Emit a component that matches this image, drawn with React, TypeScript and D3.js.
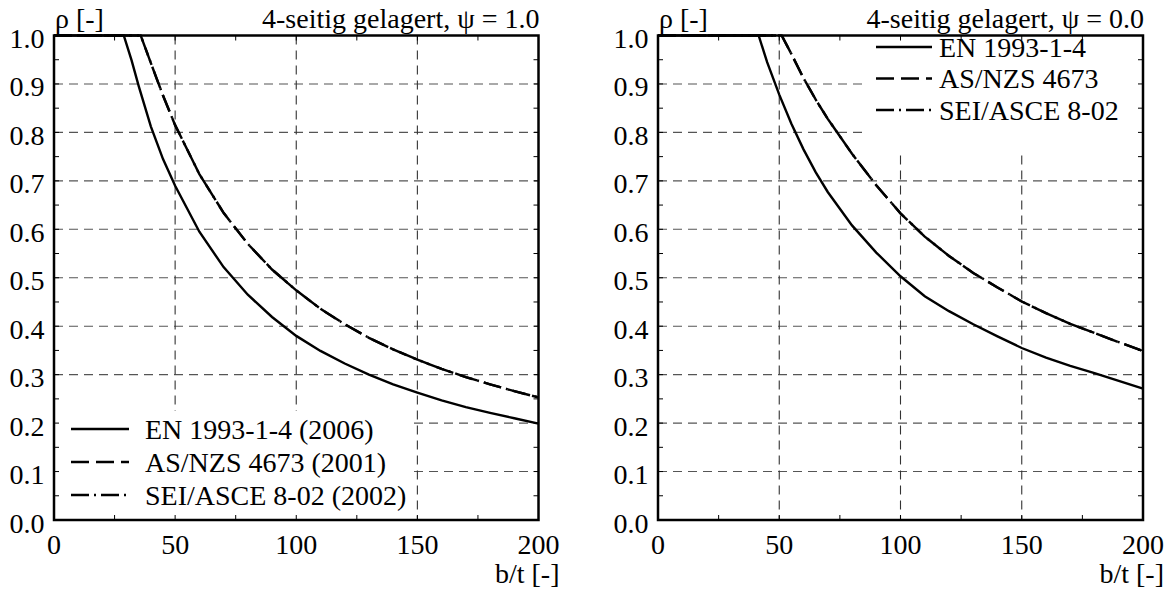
import React, { useEffect, useRef } from 'react';
import * as d3 from 'd3';

// b/t and rho, left panel (psi = 1.0)
const btEnPsi1 = [0, 28.8, 32, 35, 40, 45, 50, 60, 70, 80, 90, 100, 110, 120, 130, 140, 150, 160, 170, 180, 190, 200];
const rhoEnPsi1 = [1, 1, 0.949, 0.895, 0.812, 0.745, 0.69, 0.595, 0.522, 0.465, 0.419, 0.38, 0.349, 0.323, 0.3, 0.28, 0.263, 0.247, 0.233, 0.221, 0.21, 0.199];
const btAsPsi1 = [0, 35.8, 40, 45, 50, 60, 70, 80, 90, 100, 110, 120, 130, 140, 150, 160, 170, 180, 190, 200];
const rhoAsPsi1 = [1, 1, 0.943, 0.876, 0.815, 0.714, 0.634, 0.57, 0.517, 0.474, 0.436, 0.404, 0.376, 0.352, 0.331, 0.312, 0.295, 0.28, 0.266, 0.253];
const btSeiPsi1 = [0, 35.8, 40, 45, 50, 60, 70, 80, 90, 100, 110, 120, 130, 140, 150, 160, 170, 180, 190, 200];
const rhoSeiPsi1 = [1, 1, 0.943, 0.876, 0.815, 0.714, 0.634, 0.57, 0.517, 0.474, 0.436, 0.404, 0.376, 0.352, 0.331, 0.312, 0.295, 0.28, 0.266, 0.253];

// right panel (psi = 0.0)
const btEnPsi0 = [0, 41.5, 45, 50, 55, 60, 65, 70, 80, 90, 100, 110, 120, 130, 140, 150, 160, 170, 180, 190, 200];
const rhoEnPsi0 = [1, 1, 0.945, 0.878, 0.818, 0.765, 0.718, 0.677, 0.608, 0.552, 0.503, 0.462, 0.431, 0.404, 0.379, 0.355, 0.335, 0.318, 0.303, 0.287, 0.271];
const btAsPsi0 = [0, 51, 55, 60, 65, 70, 75, 80, 90, 100, 110, 120, 130, 140, 150, 160, 170, 180, 190, 200];
const rhoAsPsi0 = [1, 1, 0.962, 0.912, 0.868, 0.828, 0.792, 0.756, 0.691, 0.633, 0.585, 0.545, 0.51, 0.48, 0.451, 0.427, 0.405, 0.386, 0.367, 0.349];
const btSeiPsi0 = [0, 51, 55, 60, 65, 70, 75, 80, 90, 100, 110, 120, 130, 140, 150, 160, 170, 180, 190, 200];
const rhoSeiPsi0 = [1, 1, 0.962, 0.912, 0.868, 0.828, 0.792, 0.756, 0.691, 0.633, 0.585, 0.545, 0.51, 0.48, 0.451, 0.427, 0.405, 0.386, 0.367, 0.349];

const titles = ['4-seitig gelagert, ψ = 1.0', '4-seitig gelagert, ψ = 0.0'];
const legendPsi1 = ['EN 1993-1-4 (2006)', 'AS/NZS 4673 (2001)', 'SEI/ASCE 8-02 (2002)'];
const legendPsi0 = ['EN 1993-1-4', 'AS/NZS 4673', 'SEI/ASCE 8-02'];
const xTicks = [0, 50, 100, 150, 200];
const yTicks = [0, 0.1, 0.2, 0.3, 0.4, 0.5, 0.6, 0.7, 0.8, 0.9, 1.0];
const yLabel = 'ρ [-]';
const xLabel = 'b/t [-]';

const dashes = [null, '18,7', '18,5,2,5'];

function App() {
  const ref = useRef<SVGSVGElement>(null);

  useEffect(() => {
    const svg = d3.select(ref.current);
    svg.selectAll('*').remove();

    const font = 'Liberation Serif, Times New Roman, DejaVu Serif, serif';
    const top = 35.5;
    const bottom = 520;

    const panels = [
      {
        x0: 54, x1: 538.5, title: titles[0], labels: legendPsi1,
        series: [[btEnPsi1, rhoEnPsi1], [btAsPsi1, rhoAsPsi1], [btSeiPsi1, rhoSeiPsi1]],
        box: [54, 411, 414, 520], lineX: [71, 129], textX: 145, rows: [429, 462, 495],
      },
      {
        x0: 658, x1: 1143, title: titles[1], labels: legendPsi0,
        series: [[btEnPsi0, rhoEnPsi0], [btAsPsi0, rhoAsPsi0], [btSeiPsi0, rhoSeiPsi0]],
        box: [862, 35.5, 1143, 152], lineX: [876, 932], textX: 939, rows: [47, 78.5, 110],
      },
    ];

    panels.forEach((p) => {
      const x = d3.scaleLinear().domain([0, 200]).range([p.x0, p.x1]);
      const y = d3.scaleLinear().domain([0, 1]).range([bottom, top]);
      const g = svg.append('g');

      // grid
      g.selectAll('.hg')
        .data(yTicks.slice(1, -1))
        .enter()
        .append('line')
        .attr('x1', p.x0).attr('x2', p.x1)
        .attr('y1', (d) => y(d)).attr('y2', (d) => y(d))
        .attr('stroke', '#555').attr('stroke-width', 1.1)
        .attr('stroke-dasharray', '9,6');
      g.selectAll('.vg')
        .data(xTicks.slice(1, -1))
        .enter()
        .append('line')
        .attr('x1', (d) => x(d)).attr('x2', (d) => x(d))
        .attr('y1', top).attr('y2', bottom)
        .attr('stroke', '#333').attr('stroke-width', 1.1)
        .attr('stroke-dasharray', '9,6');

      // legend background hides grid
      const [bx0, by0, bx1, by1] = p.box;
      g.append('rect')
        .attr('x', bx0).attr('y', by0)
        .attr('width', bx1 - bx0).attr('height', by1 - by0)
        .attr('fill', '#fff');

      // curves
      const line = d3.line<[number, number]>()
        .x((d) => x(d[0]))
        .y((d) => y(d[1]));
      p.series.forEach(([bt, rho], i) => {
        const pts = bt.map((b, j) => [b, rho[j]] as [number, number]);
        g.append('path')
          .attr('d', line(pts))
          .attr('fill', 'none')
          .attr('stroke', '#000')
          .attr('stroke-width', 2.4)
          .attr('stroke-dasharray', dashes[i]);
      });

      // frame
      g.append('rect')
        .attr('x', p.x0).attr('y', top)
        .attr('width', p.x1 - p.x0).attr('height', bottom - top)
        .attr('fill', 'none').attr('stroke', '#000').attr('stroke-width', 2.5);

      // minor ticks inside
      const tl = 5;
      d3.range(25, 200, 25).forEach((v) => {
        g.append('line').attr('x1', x(v)).attr('x2', x(v)).attr('y1', bottom).attr('y2', bottom - tl).attr('stroke', '#000');
        g.append('line').attr('x1', x(v)).attr('x2', x(v)).attr('y1', top).attr('y2', top + tl).attr('stroke', '#000');
      });
      d3.range(1, 20).map((i) => i * 0.05).forEach((v) => {
        g.append('line').attr('x1', p.x0).attr('x2', p.x0 + tl).attr('y1', y(v)).attr('y2', y(v)).attr('stroke', '#000');
        g.append('line').attr('x1', p.x1).attr('x2', p.x1 - tl).attr('y1', y(v)).attr('y2', y(v)).attr('stroke', '#000');
      });

      const text = (tx: number, ty: number, s: string, anchor: string, size = 28) =>
        g.append('text')
          .attr('x', tx).attr('y', ty)
          .attr('text-anchor', anchor)
          .style('font-family', font)
          .style('font-size', `${size}px`)
          .attr('fill', '#000')
          .text(s);

      // tick labels
      yTicks.forEach((v) => text(p.x0 - 9.5, y(v) + 12.5, d3.format('.1f')(v), 'end'));
      xTicks.forEach((v) => text(x(v), bottom + 34, String(v), 'middle'));

      // axis titles
      text(p.x0 + 1, 28, yLabel, 'start');
      text(p.x1 + 1, 28, p.title, 'end');
      text(p.x1 + 21, 583, xLabel, 'end');

      // legend
      p.labels.forEach((lab, i) => {
        const ry = p.rows[i];
        g.append('line')
          .attr('x1', p.lineX[0]).attr('x2', p.lineX[1])
          .attr('y1', ry).attr('y2', ry)
          .attr('stroke', '#000').attr('stroke-width', 2.4)
          .attr('stroke-dasharray', dashes[i]);
        text(p.textX, ry + 9.5, lab, 'start');
      });
    });
  }, []);

  return (
    <svg
      ref={ref}
      width={1172}
      height={592}
      style={{ position: 'absolute', left: 0, top: 0, background: '#fff' }}
    ></svg>
  );
}

export default App;
